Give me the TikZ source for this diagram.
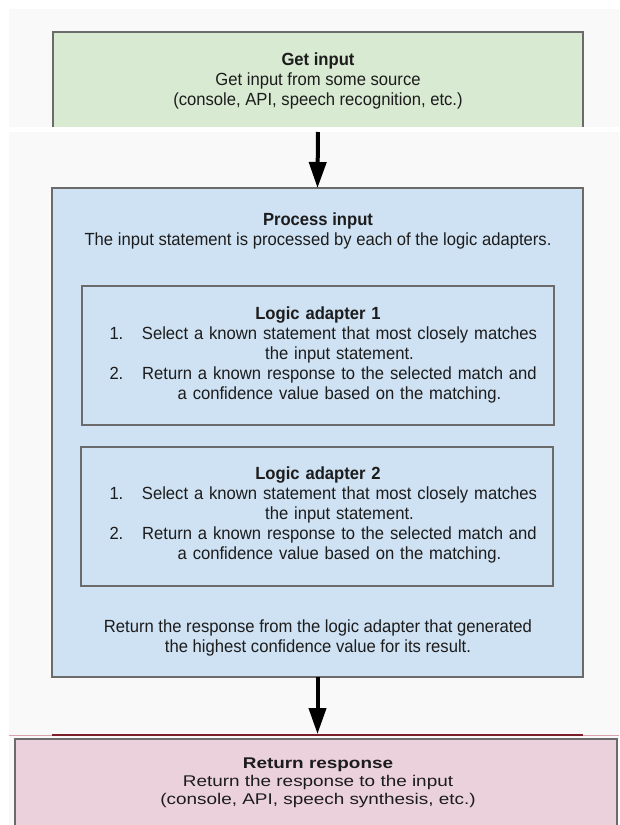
\documentclass[tikz,border=0pt]{standalone}
\usepackage{fontspec}
\setmainfont{Liberation Sans}[FakeStretch=0.945]
\newfontfamily\widefont[FakeStretch=1.22]{Liberation Sans}
\usetikzlibrary{arrows.meta}

\definecolor{bggray}{HTML}{F9F9F9}
\definecolor{boxgray}{HTML}{6B6B6B}
\definecolor{getfill}{HTML}{D9EAD3}
\definecolor{procfill}{HTML}{CFE2F3}
\definecolor{retfill}{HTML}{EAD1DC}
\definecolor{inkdark}{HTML}{1C1C1C}
\definecolor{redline}{HTML}{7A1E2A}
\definecolor{redthin}{HTML}{D9A3AE}

\newcommand{\adapteritem}[3]{\makebox[35pt][l]{#1}\makebox[390pt]{#2}\\\hspace*{35pt}\makebox[390pt]{#3}}

\tikzset{
	boxline/.style={draw=boxgray, line width=1.5pt},
	fillbox/.style={inner sep=0pt, outer sep=0pt},
	txt/.style={align=center, text=inkdark, inner sep=0pt, font=\fontsize{17.6}{20}\selectfont},
	flow/.style={line width=4pt, -{Triangle[length=26pt,width=17pt]}},
}

\begin{document}
\begin{tikzpicture}[x=1pt,y=-1pt]
\useasboundingbox (0,0) rectangle (619,825);
	% backdrop
\fill[bggray] (9,9) rectangle (619,825);
\fill[white] (9,127) rectangle (619,132);

	% boxes
\path
	(318,79.5) node[fillbox, fill=getfill, minimum width=530pt, minimum height=95pt] (getbox) {}
	(317.5,432.5) node[fillbox, boxline, fill=procfill, minimum width=531pt, minimum height=489pt] (procbox) {}
	(318,355.5) node[fillbox, boxline, minimum width=472pt, minimum height=139pt] (adapt1) {}
	(317,516.5) node[fillbox, boxline, minimum width=472pt, minimum height=139pt] (adapt2) {}
	(316,784.5) node[fillbox, fill=retfill, minimum width=602pt, minimum height=91pt] (retbox) {}
	;
\draw[boxline] (getbox.south west) |- (getbox.north east) -- (getbox.south east);
\draw[boxline] (retbox.south west) |- (retbox.north east) -- (retbox.south east);

\coordinate (redmark) at (0,735);
\draw[redthin, line width=1pt] (9,735) -- (619,735);
\draw[redline, line width=2pt] (procbox.west |- redmark) -- (procbox.east |- redmark);

	% texts
\path
	(318,81) node[txt] (gettext) {\textbf{Get input}\\Get input from some source\\(console, API, speech recognition, etc.)}
	(318,230.5) node[txt] (proctitle) {\textbf{Process input}\\The input statement is processed by each of the logic adapters.}
	(322,355) node[txt, text width=425pt] (adapt1text) {\textbf{\hspace*{-8pt}Logic adapter 1}\\
		\adapteritem{1.}{Select a known statement that most closely matches}{the input statement.}\\
		\adapteritem{2.}{Return a known response to the selected match and}{a confidence value based on the matching.}}
	(322,515) node[txt, text width=425pt] (adapt2text) {\textbf{\hspace*{-8pt}Logic adapter 2}\\
		\adapteritem{1.}{Select a known statement that most closely matches}{the input statement.}\\
		\adapteritem{2.}{Return a known response to the selected match and}{a confidence value based on the matching.}}
	(318,637.5) node[txt] (procfoot) {Return the response from the logic adapter that generated\\the highest confidence value for its result.}
	(318,783) node[txt, font=\widefont\fontsize{15.5}{18}\selectfont] (rettext) {\textbf{Return response}\\Return the response to the input\\(console, API, speech synthesis, etc.)}
	;

	% flow
\draw[flow, shorten <=5pt] (getbox.south) -- (procbox.north);
\draw[flow, shorten >=5pt] (procbox.south) -- (procbox.south |- retbox.north);
\end{tikzpicture}
\end{document}
